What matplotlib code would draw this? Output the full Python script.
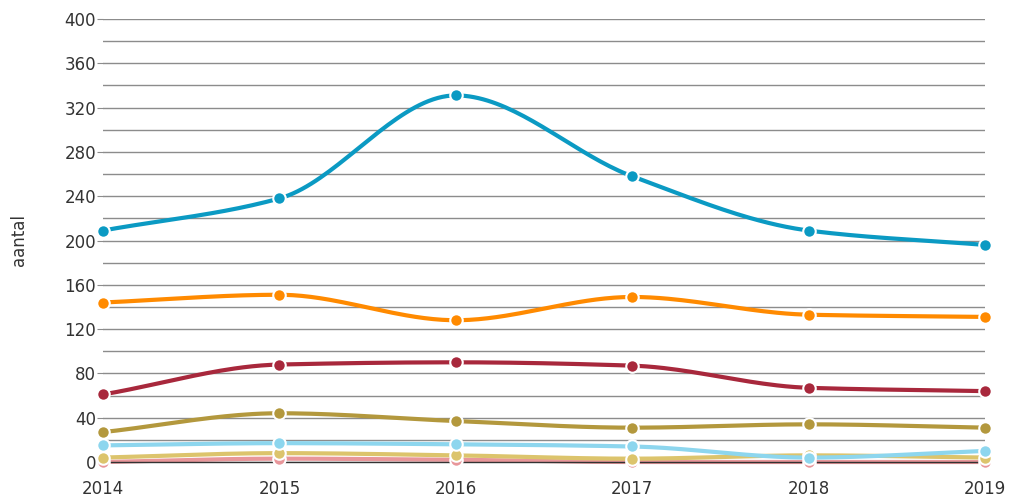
import numpy as np
import matplotlib
matplotlib.use("Agg")
import matplotlib.pyplot as plt

years = [2014, 2015, 2016, 2017, 2018, 2019]

blue = [209, 238, 331, 258, 209, 196]
orange = [144, 151, 128, 149, 133, 131]
red = [61, 88, 90, 87, 67, 64]
olive = [27, 44, 37, 31, 34, 31]
lightblue = [15, 17, 16, 14, 4, 10]
tan = [4, 8, 6, 3, 6, 4]
pink = [0, 3, 2, 0, 0, 0]

series = [
    (pink, "#e8969a"),
    (tan, "#dcc46c"),
    (lightblue, "#8dd6ee"),
    (olive, "#b3983d"),
    (red, "#a8283c"),
    (orange, "#ff8a00"),
    (blue, "#0b9ac3"),
]


def smooth_xy(xs, ys, n=40):
    # monotone cubic (harmonic-mean tangents), secant slope at the ends
    xs = np.asarray(xs, float)
    ys = np.asarray(ys, float)
    h = np.diff(xs)
    s = np.diff(ys) / h
    m = np.zeros(len(xs))
    m[0], m[-1] = s[0], s[-1]
    for i in range(1, len(xs) - 1):
        if s[i - 1] * s[i] > 0:
            m[i] = 2 * s[i - 1] * s[i] / (s[i - 1] + s[i])
        else:
            m[i] = 0.0
    out_x, out_y = [], []
    t = np.linspace(0, 1, n)
    for i in range(len(xs) - 1):
        h00 = 2 * t**3 - 3 * t**2 + 1
        h10 = t**3 - 2 * t**2 + t
        h01 = -2 * t**3 + 3 * t**2
        h11 = t**3 - t**2
        yy = h00 * ys[i] + h10 * h[i] * m[i] + h01 * ys[i + 1] + h11 * h[i] * m[i + 1]
        xx = xs[i] + t * h[i]
        if i > 0:
            xx, yy = xx[1:], yy[1:]
        out_x.append(xx)
        out_y.append(yy)
    return np.concatenate(out_x), np.concatenate(out_y)


fig = plt.figure(figsize=(10.12, 5.04), dpi=100)
ax = fig.add_axes([103 / 1012, 42 / 504, 882 / 1012, 443 / 504])

ax.set_xlim(2014, 2019)
ax.set_ylim(0, 400)
ax.set_yticks(range(0, 401, 40))
ax.set_yticks(range(20, 400, 40), minor=True)
ax.set_xticks(years)
ax.grid(True, axis="y", which="both", color="#8c8c8c", linewidth=1)
ax.set_axisbelow(True)
for sp in ["top", "right", "left"]:
    ax.spines[sp].set_visible(False)
ax.spines["bottom"].set_color("#333333")
ax.spines["bottom"].set_linewidth(1)
ax.tick_params(axis="y", which="major", length=4, color="#8c8c8c", labelsize=12, labelcolor="#333333", pad=1)
ax.tick_params(axis="y", which="minor", length=0)
ax.tick_params(axis="x", length=0, labelsize=12, labelcolor="#333333", pad=13)
ax.set_ylabel("aantal", fontsize=12, color="#333333", labelpad=26)

for vals, col in series:
    sx, sy = smooth_xy(years, vals)
    ax.plot(sx, sy, color=col, linewidth=3, clip_on=False, solid_capstyle="round")
    ax.plot(years, vals, "o", color=col, markersize=9, markeredgecolor="white",
            markeredgewidth=1.5, clip_on=False, zorder=3)

fig.savefig("out.png", dpi=100, facecolor="white")
